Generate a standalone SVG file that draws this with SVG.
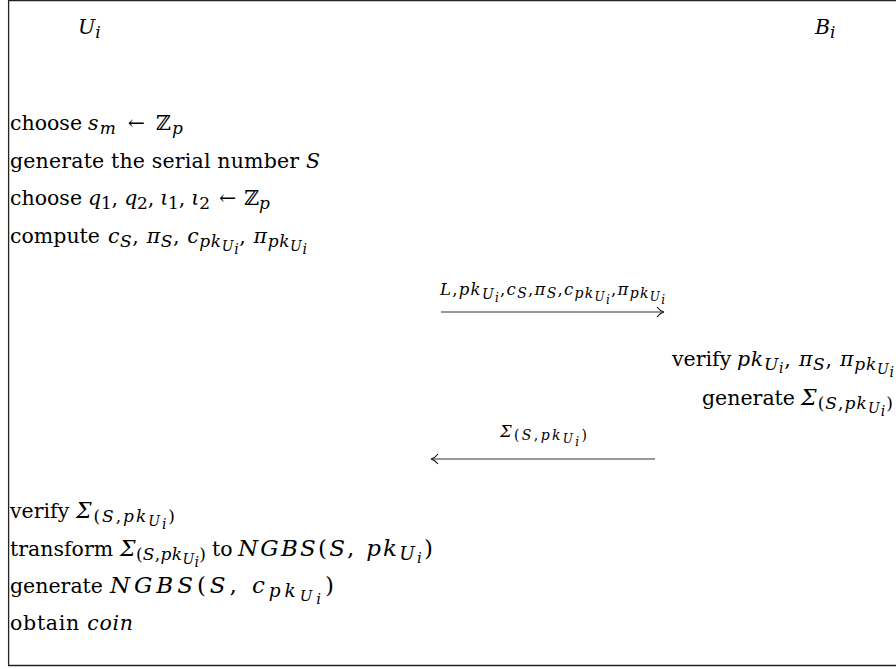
<svg xmlns="http://www.w3.org/2000/svg" width="896" height="669" viewBox="0 0 896 669">
<style>
text{font-family:"DejaVu Serif","Liberation Serif",serif;fill:#000;font-size:20.5px}
.m{font-style:italic}
.c{font-style:italic;font-size:22px}
.a{font-size:17px;font-style:italic}
.au{font-size:17px;font-style:normal}
.b{font-size:14px;font-style:italic}
.n{font-size:23px}
.na{font-size:18.5px;font-style:italic}
.nb{font-size:15px;font-style:italic}
.s{font-size:16.5px}
.la{font-size:14px;font-style:italic}
.lau{font-size:14px;font-style:normal}
.lb{font-size:12px;font-style:italic}
.frame{stroke:#222;stroke-width:1.3;fill:none}
.conn{stroke:#333;stroke-width:1.2;fill:none}
</style>
<defs>
<marker id="ah" markerWidth="12" markerHeight="12" refX="9" refY="6" orient="auto" markerUnits="userSpaceOnUse">
<path d="M3,1 Q6,5 10,6 Q6,7 3,11" fill="none" stroke="#111" stroke-width="1.1"/>
</marker>
</defs>
<rect width="896" height="669" fill="#fff"/>
<path class="frame" d="M896,0.7 H8.6 V665.5 H896"/>

<g id="Ui"><text class="m" x="78" y="34">U<tspan class="a" dy="4">i</tspan></text></g>
<g id="Bi"><text class="m" x="815" y="34">B<tspan class="a" dy="4">i</tspan></text></g>

<g id="user-steps-1">
<text x="10" y="130">choose</text>
<text x="88" y="130" textLength="95" lengthAdjust="spacing"><tspan class="m">s</tspan><tspan class="a" dy="4">m</tspan><tspan dy="-4" dx="3"> ← </tspan><tspan dx="2">ℤ</tspan><tspan class="a" dy="4">p</tspan></text>
<text x="10" y="168" textLength="310" lengthAdjust="spacing">generate the serial number <tspan class="m">S</tspan></text>
<text x="10" y="205">choose</text>
<text x="88" y="205" textLength="182" lengthAdjust="spacing"><tspan class="m">q</tspan><tspan class="au" dy="4">1</tspan><tspan dy="-4">, </tspan><tspan class="m">q</tspan><tspan class="au" dy="4">2</tspan><tspan dy="-4">, </tspan><tspan class="m">ι</tspan><tspan class="au" dy="4">1</tspan><tspan dy="-4">, </tspan><tspan class="m">ι</tspan><tspan class="au" dy="4">2</tspan><tspan dy="-4" dx="3"> ← </tspan><tspan dx="2">ℤ</tspan><tspan class="a" dy="4">p</tspan></text>
<text x="10" y="243">compute</text>
<text x="108" y="243" textLength="199" lengthAdjust="spacing"><tspan class="m">c</tspan><tspan class="a" dy="4">S</tspan><tspan dy="-4">, </tspan><tspan class="m">π</tspan><tspan class="a" dy="4">S</tspan><tspan dy="-4">, </tspan><tspan class="m">c</tspan><tspan class="a" dy="4">pk</tspan><tspan class="b" dy="4">U</tspan><tspan class="b" dy="3">i</tspan><tspan dy="-11">, </tspan><tspan class="m">π</tspan><tspan class="a" dy="4">pk</tspan><tspan class="b" dy="4">U</tspan><tspan class="b" dy="3">i</tspan></text>
</g>

<g id="bank-steps">
<text x="672" y="366">verify</text>
<text x="737" y="366" textLength="157" lengthAdjust="spacing"><tspan class="m">pk</tspan><tspan class="a" dy="4">U</tspan><tspan class="b" dy="3">i</tspan><tspan dy="-7">, </tspan><tspan class="m">π</tspan><tspan class="a" dy="4">S</tspan><tspan dy="-4">, </tspan><tspan class="m">π</tspan><tspan class="a" dy="4">pk</tspan><tspan class="b" dy="4">U</tspan><tspan class="b" dy="3">i</tspan></text>
<text x="702" y="405">generate</text>
<text x="801" y="405" textLength="92" lengthAdjust="spacing"><tspan class="c">Σ</tspan><tspan class="au" dy="4">(</tspan><tspan class="a">S</tspan><tspan class="au">,</tspan><tspan class="a">pk</tspan><tspan class="b" dy="4">U</tspan><tspan class="b" dy="3">i</tspan><tspan class="au" dy="-7">)</tspan></text>
</g>

<g id="user-steps-2">
<text x="10" y="518">verify</text>
<text x="76" y="518" textLength="99" lengthAdjust="spacing"><tspan class="c">Σ</tspan><tspan class="au" dy="4">(</tspan><tspan class="a">S</tspan><tspan class="au">,</tspan><tspan class="a">pk</tspan><tspan class="b" dy="4">U</tspan><tspan class="b" dy="3">i</tspan><tspan class="au" dy="-7">)</tspan></text>
<text x="10" y="556">transform</text>
<text x="120" y="556" textLength="86" lengthAdjust="spacing"><tspan class="c">Σ</tspan><tspan class="au" dy="4">(</tspan><tspan class="a">S</tspan><tspan class="au">,</tspan><tspan class="a">pk</tspan><tspan class="b" dy="4">U</tspan><tspan class="b" dy="3">i</tspan><tspan class="au" dy="-7">)</tspan></text>
<text x="212" y="556">to</text>
<text class="n" x="238" y="556" textLength="195" lengthAdjust="spacing"><tspan class="m">NGBS</tspan>(<tspan class="m">S</tspan>, <tspan class="m">pk</tspan><tspan class="na" dy="4">U</tspan><tspan class="nb" dy="3">i</tspan><tspan dy="-7">)</tspan></text>
<text x="10" y="593">generate</text>
<text class="n" x="110" y="593" textLength="224" lengthAdjust="spacing"><tspan class="m">NGBS</tspan>(<tspan class="m">S</tspan>, <tspan class="m">c</tspan><tspan class="na" dy="4">pk</tspan><tspan class="nb" dy="4">U</tspan><tspan class="nb" dy="3">i</tspan><tspan dy="-11">)</tspan></text>
<text x="10" y="630" textLength="123" lengthAdjust="spacing">obtain <tspan class="m">coin</tspan></text>
</g>

<g id="connectors">
<line class="conn" x1="441" y1="312" x2="663" y2="312" marker-end="url(#ah)"/>
<text class="s" x="440" y="295" textLength="225" lengthAdjust="spacing"><tspan class="m">L</tspan>,<tspan class="m">pk</tspan><tspan class="la" dy="4">U</tspan><tspan class="lb" dy="3">i</tspan><tspan dy="-7">,</tspan><tspan class="m">c</tspan><tspan class="la" dy="3">S</tspan><tspan dy="-3">,</tspan><tspan class="m">π</tspan><tspan class="la" dy="3">S</tspan><tspan dy="-3">,</tspan><tspan class="m">c</tspan><tspan class="la" dy="3">pk</tspan><tspan class="lb" dy="3">U</tspan><tspan class="lb" dy="3">i</tspan><tspan dy="-9">,</tspan><tspan class="m">π</tspan><tspan class="la" dy="3">pk</tspan><tspan class="lb" dy="3">U</tspan><tspan class="lb" dy="3">i</tspan></text>
<line class="conn" x1="655" y1="459" x2="432" y2="459" marker-end="url(#ah)"/>
<text class="s" x="500" y="437" textLength="87" lengthAdjust="spacing"><tspan class="m">Σ</tspan><tspan class="lau" dy="3">(</tspan><tspan class="la">S</tspan><tspan class="lau">,</tspan><tspan class="la">pk</tspan><tspan class="lb" dy="3">U</tspan><tspan class="lb" dy="3">i</tspan><tspan class="lau" dy="-6">)</tspan></text>
</g>
</svg>
